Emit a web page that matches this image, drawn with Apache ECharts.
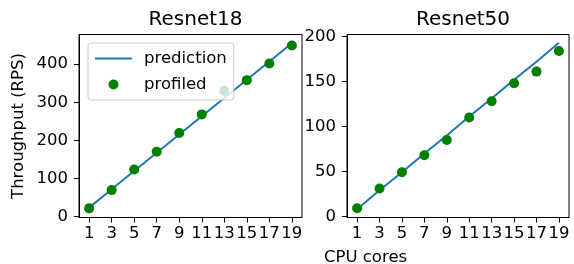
<!DOCTYPE html>
<html>
<head>
<meta charset="utf-8">
<script src="https://cdn.jsdelivr.net/npm/echarts@6/dist/echarts.min.js"></script>
<style>
  html, body { margin: 0; padding: 0; background: #fff; }
  #chart { width: 574px; height: 264px; }
</style>
</head>
<body>
<div id="chart"></div>
<script>
// data
const cores = [1, 3, 5, 7, 9, 11, 13, 15, 17, 19];
const xTicks = [1, 3, 5, 7, 9, 11, 13, 15, 17, 19];
const r18Prediction = [23, 71, 119, 167, 215, 263, 311, 359, 407, 455];
const r18Profiled = [21, 69, 123, 170, 219, 268, 330, 358, 402, 449];
const r18Ticks = [0, 100, 200, 300, 400];
const r50Prediction = [8, 29, 49, 70, 90, 111, 131, 152, 172, 193];
const r50Profiled = [9, 31, 49, 68, 85, 110, 128, 148, 161, 184];
const r50Ticks = [0, 50, 100, 150, 200];

const FONT = 'DejaVu Sans';
const BLUE = '#1f77b4';
const GREEN = '#008000';

// plain line legend handle (tiny corner specks keep the box 37x10 so the bar stays 2px)
const LINE_ICON = 'path://M0,0L0.05,0L0.05,0.05Z M0,4L37,4L37,6L0,6Z M36.95,10L37,10L37,9.95Z';

const pairs = (xs, ys) => xs.map((x, i) => [x, ys[i]]);

function xAxisFor(gridIndex) {
  return {
    type: 'value', gridIndex, min: 0.1, max: 19.9,
    axisLine: { show: true, onZero: false, lineStyle: { color: '#000', width: 1 } },
    axisTick: { show: true, length: 5, customValues: xTicks, lineStyle: { color: '#000' } },
    axisLabel: { customValues: xTicks, color: '#000', fontSize: 16.5, fontFamily: FONT, margin: 8 },
    splitLine: { show: false }
  };
}

function yAxisFor(gridIndex, min, max, ticks, name) {
  return {
    type: 'value', gridIndex, min, max,
    name: name || '',
    nameLocation: 'middle',
    nameGap: 52,
    nameTextStyle: { color: '#000', fontSize: 16.5, fontFamily: FONT },
    axisLine: { show: true, onZero: false, lineStyle: { color: '#000', width: 1 } },
    axisTick: { show: true, length: 5, customValues: ticks, lineStyle: { color: '#000' } },
    axisLabel: { customValues: ticks, color: '#000', fontSize: 16.5, fontFamily: FONT, margin: 11 },
    splitLine: { show: false }
  };
}

function lineSeries(i, data) {
  return {
    name: 'prediction', type: 'line', xAxisIndex: i, yAxisIndex: i,
    data: pairs(cores, data), symbol: 'none', z: 2,
    lineStyle: { color: BLUE, width: 2 }, itemStyle: { color: BLUE }
  };
}

function dotSeries(i, data) {
  return {
    name: 'profiled', type: 'scatter', xAxisIndex: i, yAxisIndex: i,
    data: pairs(cores, data), symbol: 'circle', symbolSize: 10, z: 3,
    itemStyle: { color: GREEN, opacity: 1 }
  };
}

const chart = echarts.init(document.getElementById('chart'), null, { renderer: 'canvas' });
chart.setOption({
  animation: false,
  textStyle: { fontFamily: FONT },
  title: [
    { text: 'Resnet18', left: 190.5, top: 5, textAlign: 'center',
      textStyle: { fontSize: 20, fontWeight: 'normal', color: '#000', fontFamily: FONT } },
    { text: 'Resnet50', left: 458, top: 5, textAlign: 'center',
      textStyle: { fontSize: 20, fontWeight: 'normal', color: '#000', fontFamily: FONT } }
  ],
  legend: {
    orient: 'vertical', left: 88, top: 43, padding: 7,
    itemWidth: 37, itemHeight: 10, itemGap: 9,
    backgroundColor: 'rgba(255,255,255,0.8)', borderColor: '#cccccc', borderWidth: 1, borderRadius: 3,
    textStyle: { fontSize: 16.5, fontFamily: FONT, color: '#000', lineHeight: 16, padding: [0, 0, 0, 7] },
    data: [
      { name: 'prediction', icon: LINE_ICON, itemStyle: { color: BLUE } },
      { name: 'profiled', icon: 'circle' }
    ]
  },
  grid: [
    { left: 79, top: 34.5, width: 223, height: 183, show: true, borderColor: '#000', borderWidth: 1, backgroundColor: 'transparent' },
    { left: 347, top: 34.5, width: 222, height: 183, show: true, borderColor: '#000', borderWidth: 1, backgroundColor: 'transparent' }
  ],
  xAxis: [xAxisFor(0), xAxisFor(1)],
  yAxis: [
    yAxisFor(0, -3, 478, r18Ticks, 'Throughput (RPS)'),
    yAxisFor(1, -1.25, 202.25, r50Ticks)
  ],
  graphic: [
    { type: 'text', left: 324, top: 249,
      style: { text: 'CPU cores', fontSize: 16.5, fontFamily: FONT, fill: '#000', textAlign: 'center' } }
  ],
  series: [
    lineSeries(0, r18Prediction),
    dotSeries(0, r18Profiled),
    lineSeries(1, r50Prediction),
    dotSeries(1, r50Profiled)
  ]
});
</script>
</body>
</html>
